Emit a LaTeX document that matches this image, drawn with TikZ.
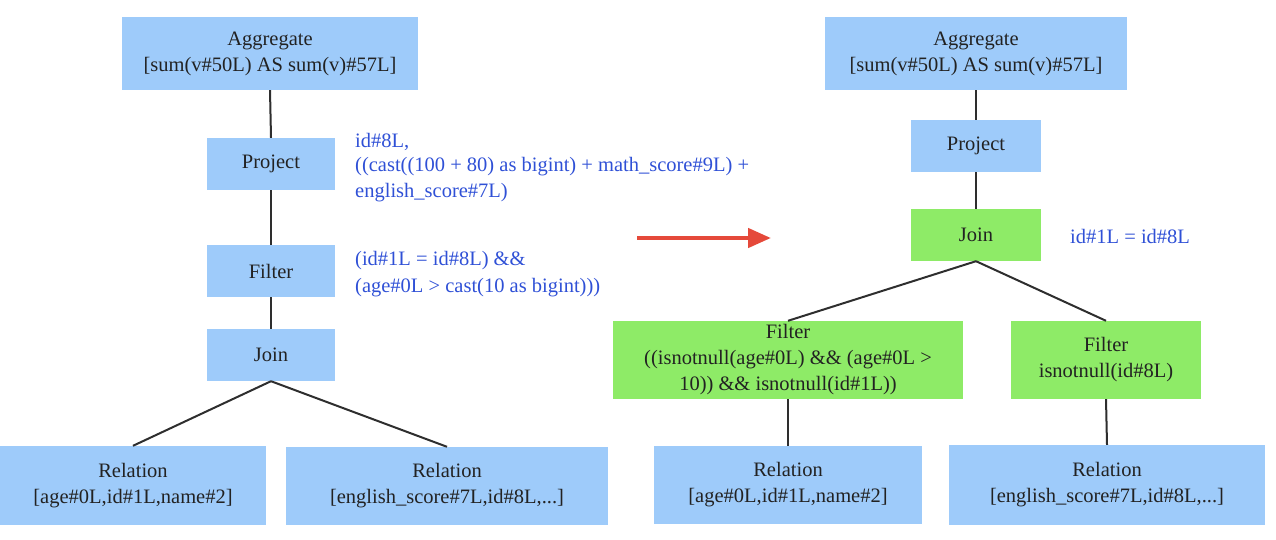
\documentclass[tikz,border=0pt]{standalone}
\usepackage{fontspec}
\setmainfont{Liberation Serif}
\newfontfamily\tnr{Liberation Serif}
\usetikzlibrary{arrows.meta}
\definecolor{boxblue}{HTML}{9ECBFA}
\definecolor{boxgreen}{HTML}{8EEB67}
\definecolor{txtblue}{HTML}{2F50D6}
\definecolor{txtdark}{HTML}{222222}
\definecolor{edgec}{HTML}{2E2E2E}
\definecolor{arrred}{HTML}{E5493A}
\tikzset{
  plan/.style={inner sep=0pt, align=center, text=txtdark,
    font=\tnr\fontsize{20.5}{26}\selectfont},
  bluebox/.style={plan, fill=boxblue},
  greenbox/.style={plan, fill=boxgreen},
  note/.style={inner sep=0pt, align=left, anchor=base west, text=txtblue,
    font=\tnr\fontsize{20.5}{25}\selectfont},
  edge/.style={draw=edgec, line width=2pt},
}
\begin{document}
\begin{tikzpicture}[x=1pt,y=-1pt]
\useasboundingbox (0,0) rectangle (1276,540);
% left plan
\node[bluebox, minimum width=296pt, minimum height=73pt] (aggL) at (270,53.5) {Aggregate\\{}[sum(v\#50L) AS sum(v)\#57L]};
\node[bluebox, minimum width=128pt, minimum height=52pt] (projL) at (271,164) {Project};
\node[bluebox, minimum width=128pt, minimum height=52pt] (filtL) at (271,271) {Filter};
\node[bluebox, minimum width=128pt, minimum height=52pt] (joinL) at (271,355) {Join};
\node[bluebox, minimum width=266pt, minimum height=79pt] (relL1) at (133,485.5) {Relation\\{}[age\#0L,id\#1L,name\#2]};
\node[bluebox, minimum width=322pt, minimum height=78pt] (relL2) at (447,486) {Relation\\{}[english\_score\#7L,id\#8L,...]};
\draw[edge] (aggL.south) -- (projL.north);
\draw[edge] (projL.south) -- (filtL.north);
\draw[edge] (filtL.south) -- (joinL.north);
\draw[edge] (joinL.south) -- (relL1.north);
\draw[edge] (joinL.south) -- (relL2.north);
\node[note] (projnote) at (355,197) {id\#8L,\\((cast((100 + 80) as bigint) + math\_score\#9L) +\\english\_score\#7L)};
\node[note, font=\tnr\fontsize{20.5}{27}\selectfont] (filtnote) at (355,292) {(id\#1L = id\#8L) \&\&\\(age\#0L > cast(10 as bigint)))};
% arrow
\coordinate (arrS) at (637,238);
\coordinate (arrE) at (771,238);
\draw[arrred, line width=4.5pt, -{Triangle[length=23pt,width=19pt]}] (arrS) -- (arrE);
% right plan
\node[bluebox, minimum width=302pt, minimum height=73pt] (aggR) at (976,53.5) {Aggregate\\{}[sum(v\#50L) AS sum(v)\#57L]};
\node[bluebox, minimum width=130pt, minimum height=52pt] (projR) at (976,146) {Project};
\node[greenbox, minimum width=130pt, minimum height=52pt] (joinR) at (976,235) {Join};
\node[greenbox, minimum width=350pt, minimum height=78pt] (filtR1) at (788,360) {Filter\\((isnotnull(age\#0L) \&\& (age\#0L >\\10)) \&\& isnotnull(id\#1L))};
\node[greenbox, minimum width=190pt, minimum height=78pt] (filtR2) at (1106,360) {Filter\\isnotnull(id\#8L)};
\node[bluebox, minimum width=268pt, minimum height=78pt] (relR1) at (788,485) {Relation\\{}[age\#0L,id\#1L,name\#2]};
\node[bluebox, minimum width=316pt, minimum height=80pt] (relR2) at (1107,485) {Relation\\{}[english\_score\#7L,id\#8L,...]};
\draw[edge] (aggR.south) -- (projR.north);
\draw[edge] (projR.south) -- (joinR.north);
\draw[edge] (joinR.south) -- (filtR1.north);
\draw[edge] (joinR.south) -- (filtR2.north);
\draw[edge] (filtR1.south) -- (relR1.north);
\draw[edge] (filtR2.south) -- (relR2.north);
\node[note] (joinnote) at (1070,243) {id\#1L = id\#8L};
\end{tikzpicture}
\end{document}
